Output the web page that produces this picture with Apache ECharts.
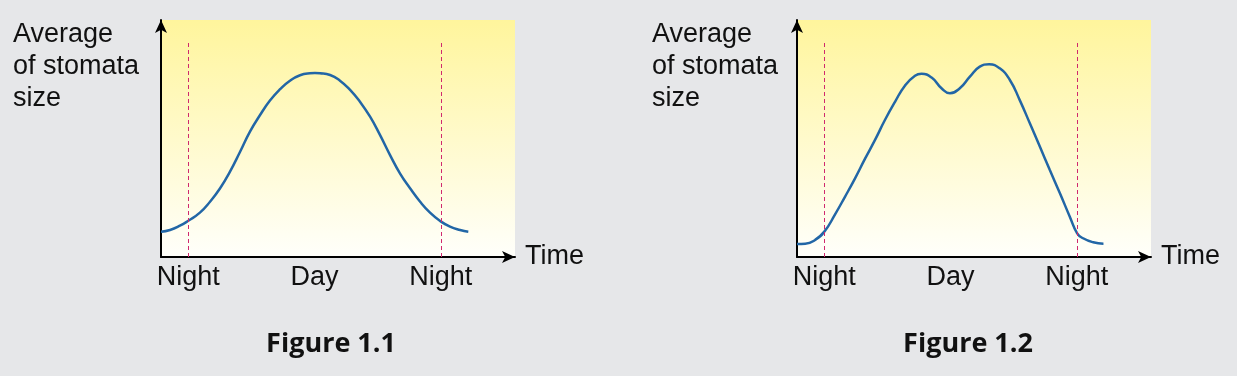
<!DOCTYPE html>
<html>
<head>
<meta charset="utf-8">
<script src="https://cdn.jsdelivr.net/npm/echarts@6/dist/echarts.min.js"></script>
<style>
  html, body { margin: 0; padding: 0; background: #e6e7e9; }
  #chart { width: 1237px; height: 376px; }
</style>
</head>
<body>
<div id="chart"></div>
<script>
// time of day in hours, value = relative stomata size (0-100)
var hours1 = [4.7, 5.13, 5.6, 6.0, 6.55, 7.03, 7.51, 7.98, 8.46, 8.93, 9.41, 9.88, 10.36, 10.83, 11.31, 11.78, 12.02,
  12.26, 12.74, 13.21, 13.69, 14.16, 14.64, 15.11, 15.59, 16.06, 16.54, 17.02, 17.49, 17.97, 18.44, 18.92, 19.31]
var size1 = [10.7, 11.4, 13.2, 15.3, 18.7, 23.3, 29.0, 36.0, 44.4, 52.9, 59.9, 66.0, 70.8, 74.4, 76.7, 77.5, 77.6,
  77.5, 76.8, 74.4, 70.5, 65.5, 59.2, 51.5, 43.0, 35.3, 29.0, 23.3, 18.7, 15.2, 12.8, 11.4, 10.7]

var hours2 = [4.7, 5.09, 5.56, 6.0, 6.51, 6.98, 7.46, 7.93, 8.41, 8.88, 9.36, 9.83, 10.31, 10.62, 11.1, 11.57, 11.97,
  12.44, 12.92, 13.39, 13.83, 14.34, 14.82, 15.29, 15.77, 16.25, 16.72, 17.2, 17.67, 18.02, 18.3, 18.78, 19.27]
var size2 = [5.5, 5.6, 7.2, 10.7, 18.0, 25.4, 33.2, 41.4, 49.4, 57.8, 65.5, 72.3, 76.5, 77.3, 75.7, 71.2, 69.1,
  71.2, 76.1, 80.3, 81.3, 79.6, 74.7, 66.2, 56.4, 46.5, 36.7, 26.9, 17.0, 10.0, 7.9, 6.2, 5.6]

var tickHours = [6, 12, 18]
var tickLabels = ['Night', 'Day', 'Night']
var nightLines = [6, 18]
var figureNames = ['Figure 1.1', 'Figure 1.2']
var yName = ['Average', 'of stomata', 'size']

var chart = echarts.init(document.getElementById('chart'))

var font = "'Liberation Sans', Arial, sans-serif"
var plotBg = new echarts.graphic.LinearGradient(0, 0, 0, 1, [
  { offset: 0, color: '#fff59c' },
  { offset: 1, color: '#fffffb' }
])

function zip(xs, ys) {
  return xs.map(function (x, i) { return [x, ys[i]] })
}

function xAxisFor(i) {
  return {
    type: 'value',
    gridIndex: i,
    min: 4.7,
    max: 21.53,
    name: 'Time',
    nameLocation: 'end',
    nameGap: 10,
    nameTextStyle: { color: '#111', fontSize: 27, fontFamily: font, align: 'left', verticalAlign: 'middle', padding: [0, 0, 6, 0] },
    axisLine: { lineStyle: { color: '#000', width: 2 }, symbol: ['none', 'arrow'], symbolSize: [9, 13] },
    axisTick: { show: false },
    splitLine: { show: false },
    axisLabel: {
      customValues: tickHours,
      margin: 7,
      color: '#111',
      fontSize: 27,
      lineHeight: 27,
      fontFamily: font,
      formatter: function (v) { return tickLabels[tickHours.indexOf(v)] }
    }
  }
}

function yAxisFor(i) {
  return {
    type: 'value',
    gridIndex: i,
    min: 0,
    max: 100,
    axisLine: { show: true, lineStyle: { color: '#000', width: 2 }, symbol: ['none', 'arrow'], symbolSize: [9, 13] },
    axisTick: { show: false },
    axisLabel: { show: false },
    splitLine: { show: false }
  }
}

function curve(i, data) {
  return {
    type: 'line',
    xAxisIndex: i,
    yAxisIndex: i,
    data: data,
    smooth: 0.5,
    showSymbol: false,
    lineStyle: { color: '#2266a6', width: 2.5 },
    markLine: {
      silent: true,
      symbol: 'none',
      label: { show: false },
      lineStyle: { color: '#d0286e', width: 1, type: [4, 3] },
      data: nightLines.map(function (h) {
        return [{ coord: [h, 0] }, { coord: [h, 90.3] }]
      })
    },
    z: 3
  }
}

var captionStyle = { fontSize: 27, fontWeight: 'bold', fontFamily: "'Open Sans', sans-serif", color: '#111' }

var option = {
  backgroundColor: '#e6e7e9',
  animation: false,
  title: [
    { text: figureNames[0], left: 326, top: 326, textAlign: 'center', textStyle: captionStyle },
    { text: figureNames[1], left: 963, top: 326, textAlign: 'center', textStyle: captionStyle }
  ],
  grid: [
    { left: 161, top: 20, width: 354, height: 237, show: true, backgroundColor: plotBg, borderWidth: 0 },
    { left: 797, top: 20, width: 354, height: 237, show: true, backgroundColor: plotBg, borderWidth: 0 }
  ],
  xAxis: [xAxisFor(0), xAxisFor(1)],
  yAxis: [yAxisFor(0), yAxisFor(1)],
  graphic: [
    { type: 'text', left: 13, top: 19,
      style: { text: yName.join('\n'), fontSize: 27, lineHeight: 32, fontFamily: font, fill: '#111' } },
    { type: 'text', left: 652, top: 19,
      style: { text: yName.join('\n'), fontSize: 27, lineHeight: 32, fontFamily: font, fill: '#111' } }
  ],
  series: [curve(0, zip(hours1, size1)), curve(1, zip(hours2, size2))]
}

chart.setOption(option)
</script>
</body>
</html>
